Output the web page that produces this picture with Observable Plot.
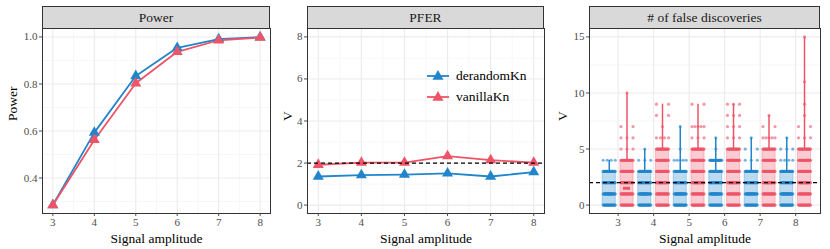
<!DOCTYPE html>
<html><head><meta charset="utf-8">
<script src="https://cdn.jsdelivr.net/npm/d3@7"></script>
<script src="https://cdn.jsdelivr.net/npm/@observablehq/plot@0.6"></script>
<style>
body{margin:0;background:#fff;font-family:"Liberation Serif","Times New Roman",Times,serif;}
#wrap{position:relative;width:830px;height:249px;overflow:hidden;background:#fff;}
.panel{position:absolute;top:0;}
.strip{position:absolute;top:6px;height:23px;box-sizing:border-box;background:#d9d9d9;border:1px solid #333;font-size:13.5px;color:#1a1a1a;text-align:center;line-height:21px;}
.legend{position:absolute;left:426px;top:66px;font-size:13.5px;color:#000;}
.legend .row{display:flex;align-items:center;height:20.5px;}
.legend svg{margin-right:6px;}
</style></head><body><div id="wrap"></div>
<script>
// ---- data ----
const amplitudes = [3, 4, 5, 6, 7, 8];
const methods = ["derandomKn", "vanillaKn"];
const colors = ["#2185CC", "#EE5467"];

const powerDerandom = [0.285, 0.593, 0.834, 0.954, 0.991, 0.999];
const powerVanilla  = [0.285, 0.562, 0.803, 0.937, 0.986, 0.997];

const pferDerandom = [1.36, 1.43, 1.45, 1.51, 1.36, 1.57];
const pferVanilla  = [1.92, 2.02, 2.02, 2.33, 2.14, 2.02];
const pferTarget = 2;

const fdQ1Derandom = [0, 0, 0, 0, 0, 0];
const fdQ3Derandom = [3, 3, 3, 3, 3, 3];
const fdMedianDerandom = [1, 1, 1, 1, 1, 1];
const fdQ1Vanilla = [0, 0, 0, 0, 0, 0];
const fdQ3Vanilla = [4, 5, 5, 5, 5, 5];
const fdMedianVanilla = [1.5, 2, 2, 2, 2, 2];

// number of runs observed at each V level (index = V), per amplitude
const fdCountsDerandom = [
  [24, 24, 24, 24, 4],
  [24, 24, 24, 24, 3, 1],
  [24, 24, 24, 24, 5, 1, 0, 1],
  [24, 24, 24, 24, 24, 1, 1],
  [24, 24, 24, 24, 3, 2, 1],
  [24, 24, 24, 24, 4, 3, 1]
];
const fdCountsVanilla = [
  [24, 24, 24, 24, 24, 3, 3, 2, 0, 0, 1],
  [24, 24, 24, 24, 24, 24, 4, 1, 2, 2],
  [24, 24, 24, 24, 24, 24, 3, 5, 0, 2],
  [24, 24, 24, 24, 24, 24, 3, 3, 3, 3],
  [24, 24, 24, 24, 24, 24, 5, 2, 1],
  [24, 24, 24, 24, 24, 24, 3, 2, 1, 1, 0, 1, 0, 0, 0, 1]
];

const powerTicks = [0.4, 0.6, 0.8, 1.0];
const powerMinor = [0.3, 0.5, 0.7, 0.9];
const pferTicks = [0, 2, 4, 6, 8];
const pferMinor = [1, 3, 5, 7];
const fdTicks = [0, 5, 10, 15];
const fdMinor = [2.5, 7.5, 12.5];
const xMinor = [3.5, 4.5, 5.5, 6.5, 7.5];

// ---- tables ----
const rows = amplitudes.flatMap((a, i) => [
  {amp: a, method: methods[0], power: powerDerandom[i], pfer: pferDerandom[i]},
  {amp: a, method: methods[1], power: powerVanilla[i], pfer: pferVanilla[i]}
]);
const lineRows = [...rows.filter(d => d.method === methods[0]), ...rows.filter(d => d.method === methods[1])];

const dodge = 0.25, boxHalf = 0.185, spread = 0.17, medHalf = 0.1;
const fdSets = [
  {method: methods[0], q1: fdQ1Derandom, q3: fdQ3Derandom, med: fdMedianDerandom, counts: fdCountsDerandom, off: -dodge},
  {method: methods[1], q1: fdQ1Vanilla, q3: fdQ3Vanilla, med: fdMedianVanilla, counts: fdCountsVanilla, off: dodge}
];
const boxRows = [], pointRows = [];
for (const s of fdSets) {
  amplitudes.forEach((a, i) => {
    const cx = a + s.off;
    const c = s.counts[i];
    let max = 0;
    c.forEach((n, v) => { if (n > 0) max = v; });
    boxRows.push({method: s.method, cx, x1: cx - boxHalf, x2: cx + boxHalf, q1: s.q1[i], q3: s.q3[i],
      median: s.med[i], mx1: cx - medHalf, mx2: cx + medHalf, max});
    c.forEach((n, v) => {
      for (let j = 0; j < n; j++) {
        pointRows.push({method: s.method, v, px: n === 1 ? cx : cx - spread + 2 * spread * j / (n - 1)});
      }
    });
  });
}

// ---- helpers ----
const font = "'Liberation Serif', 'Times New Roman', Times, serif";
const colorScale = {domain: methods, range: colors};
const gridMajor = {stroke: "#ebebeb", strokeOpacity: 1, strokeWidth: 1.1};
const gridMinor = {stroke: "#f2f2f2", strokeOpacity: 1, strokeWidth: 0.6};
const tickStyle = {tickSize: 3, tickPadding: 2, fontSize: 11, color: "#4d4d4d", label: null};

function axisTitles(ylab, yOff) {
  return [
    Plot.text(["Signal amplitude"], {frameAnchor: "bottom", dy: 25, fontSize: 13.5, fill: "#000", lineAnchor: "middle"}),
    Plot.text([ylab], {frameAnchor: "left", dx: -yOff, rotate: -90, fontSize: 13.5, fill: "#000"})
  ];
}

const wrap = document.getElementById("wrap");
function place(svg, left) {
  const d = document.createElement("div");
  d.className = "panel";
  d.style.left = left + "px";
  d.appendChild(svg);
  wrap.appendChild(d);
}
function strip(text, left, width) {
  const d = document.createElement("div");
  d.className = "strip";
  d.style.left = left + "px";
  d.style.width = width + "px";
  d.textContent = text;
  wrap.appendChild(d);
}

// ---- panel 1: Power ----
const p1 = Plot.plot({
  width: 275, height: 249, marginLeft: 42, marginRight: 5, marginTop: 28, marginBottom: 36,
  style: {fontFamily: font, background: "transparent", overflow: "visible"},
  x: {domain: [2.75, 8.25]},
  y: {domain: [0.249, 1.036]},
  color: colorScale,
  marks: [
    Plot.gridX(xMinor, gridMinor),
    Plot.gridY(powerMinor, gridMinor),
    Plot.gridX(amplitudes, gridMajor),
    Plot.gridY(powerTicks, gridMajor),
    Plot.line(lineRows, {x: "amp", y: "power", z: "method", stroke: "method", strokeWidth: 1.8}),
    Plot.dot(rows, {x: "amp", y: "power", fill: "method", symbol: "triangle", r: 4.1}),
    Plot.frame({stroke: "#333", strokeWidth: 1}),
    Plot.axisX({...tickStyle, ticks: amplitudes, tickFormat: d => d}),
    Plot.axisY({...tickStyle, ticks: powerTicks, tickFormat: d3.format(".1f")}),
    ...axisTitles("Power", 30)
  ]
});
place(p1, 0);
strip("Power", 42, 228);

// ---- panel 2: PFER ----
const p2 = Plot.plot({
  width: 275, height: 249, marginLeft: 32, marginRight: 6, marginTop: 28, marginBottom: 36,
  style: {fontFamily: font, background: "transparent", overflow: "visible"},
  x: {domain: [2.75, 8.25]},
  y: {domain: [-0.4, 8.4]},
  color: colorScale,
  marks: [
    Plot.gridX(xMinor, gridMinor),
    Plot.gridY(pferMinor, gridMinor),
    Plot.gridX(amplitudes, gridMajor),
    Plot.gridY(pferTicks, gridMajor),
    Plot.line(lineRows, {x: "amp", y: "pfer", z: "method", stroke: "method", strokeWidth: 1.8}),
    Plot.dot(rows, {x: "amp", y: "pfer", fill: "method", symbol: "triangle", r: 4.1}),
    Plot.ruleY([pferTarget], {stroke: "#000", strokeWidth: 1.2, strokeDasharray: "4,3"}),
    Plot.frame({stroke: "#333", strokeWidth: 1}),
    Plot.axisX({...tickStyle, ticks: amplitudes, tickFormat: d => d}),
    Plot.axisY({...tickStyle, ticks: pferTicks, tickFormat: d => d}),
    ...axisTitles("V", 20)
  ]
});
place(p2, 275);
strip("PFER", 307, 237);

// legend
const leg = document.createElement("div");
leg.className = "legend";
methods.forEach((m, i) => {
  const row = document.createElement("div");
  row.className = "row";
  const svg = d3.create("svg").attr("width", 24).attr("height", 20);
  svg.append("line").attr("x1", 1).attr("x2", 23).attr("y1", 10).attr("y2", 10)
    .attr("stroke", colors[i]).attr("stroke-width", 1.8);
  svg.append("path").attr("transform", "translate(12,10.5)")
    .attr("d", d3.symbol(d3.symbolTriangle, Math.PI * 4.1 * 4.1)()).attr("fill", colors[i]);
  row.appendChild(svg.node());
  const t = document.createElement("span");
  t.textContent = m;
  row.appendChild(t);
  leg.appendChild(row);
});
wrap.appendChild(leg);

// ---- panel 3: # of false discoveries ----
const p3 = Plot.plot({
  width: 280, height: 249, marginLeft: 39, marginRight: 10, marginTop: 28, marginBottom: 36,
  style: {fontFamily: font, background: "transparent", overflow: "visible"},
  x: {domain: [2.194, 8.70]},
  y: {domain: [-0.75, 15.75]},
  color: colorScale,
  marks: [
    Plot.gridY(fdMinor, gridMinor),
    Plot.gridX(amplitudes, gridMajor),
    Plot.gridY(fdTicks, gridMajor),
    Plot.rect(boxRows, {x1: "x1", x2: "x2", y1: "q1", y2: "q3", fill: "method", fillOpacity: 0.3, stroke: "method", strokeOpacity: 0.3}),
    Plot.ruleX(boxRows, {x: "cx", y1: "q3", y2: "max", stroke: "method", strokeWidth: 1.5}),
    Plot.dot(pointRows, {x: "px", y: "v", fill: "method", r: 1.6, fillOpacity: 0.6}),
    Plot.ruleY(boxRows, {y: "median", x1: "mx1", x2: "mx2", stroke: "method", strokeWidth: 3}),
    Plot.ruleY([pferTarget], {stroke: "#000", strokeWidth: 1.2, strokeDasharray: "4,3"}),
    Plot.frame({stroke: "#333", strokeWidth: 1}),
    Plot.axisX({...tickStyle, ticks: amplitudes, tickFormat: d => d}),
    Plot.axisY({...tickStyle, ticks: fdTicks, tickFormat: d => d}),
    ...axisTitles("V", 27)
  ]
});
place(p3, 550);
strip("# of false discoveries", 589, 231);
</script>
</body></html>
